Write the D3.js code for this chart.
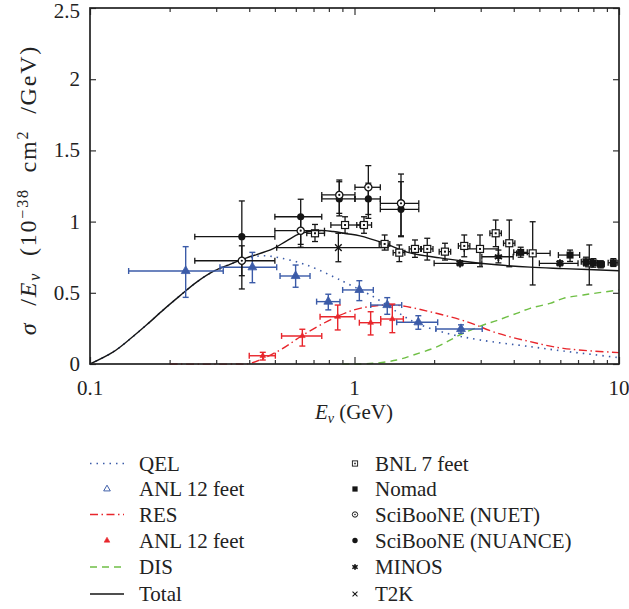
<!DOCTYPE html>
<html><head><meta charset="utf-8">
<script src="https://cdn.jsdelivr.net/npm/d3@7"></script>
<style>
body{margin:0;background:#fff}
svg{display:block}
text{font-family:"Liberation Serif","DejaVu Serif",serif;fill:#222}
</style>
</head><body>
<svg id="c" width="629" height="609"></svg>
<script>
// ---------- axes ----------
const xMajorTicks = [0.1, 1, 10];
const xTickLabels = ["0.1", "1", "10"];
const xMinorTicks = [0.2,0.3,0.4,0.5,0.6,0.7,0.8,0.9,2,3,4,5,6,7,8,9];
const yTicks = [0, 0.5, 1, 1.5, 2, 2.5];
const yTickLabels = ["0", "0.5", "1", "1.5", "2", "2.5"];

// ---------- theory curves: [E (GeV), sigma/E] ----------
const qelCurve = [[0.1,0],[0.1225,0.085],[0.1416,0.175],[0.1638,0.275],[0.1893,0.38],[0.219,0.48],[0.253,0.575],[0.2925,0.65],[0.338,0.70],[0.391,0.74],[0.45,0.76],[0.523,0.745],[0.66,0.695],[0.832,0.613],[0.935,0.567],[1.178,0.473],[1.444,0.367],[1.719,0.286],[2.232,0.216],[2.982,0.169],[4.609,0.122],[6.158,0.091],[10,0.045]];
const resCurve = [[0.2,0],[0.35,0],[0.403,0.005],[0.523,0.098],[0.64,0.204],[0.856,0.332],[1.049,0.391],[1.402,0.414],[1.929,0.367],[2.656,0.297],[3.448,0.218],[4.609,0.157],[6.158,0.110],[10,0.08]];
const disCurve = [[0.9,0],[1.145,0.003],[1.444,0.028],[1.67,0.063],[2.046,0.12],[2.297,0.168],[2.578,0.216],[3.069,0.274],[3.448,0.305],[4.104,0.356],[4.609,0.391],[5.486,0.426],[6.158,0.461],[7.328,0.485],[10,0.52]];
const totalCurve = [[0.1,0],[0.1225,0.085],[0.1416,0.175],[0.1638,0.275],[0.1893,0.38],[0.219,0.48],[0.253,0.575],[0.2925,0.65],[0.338,0.70],[0.391,0.745],[0.493,0.81],[0.554,0.865],[0.622,0.915],[0.741,0.938],[0.832,0.93],[0.935,0.915],[1.049,0.9],[1.285,0.85],[1.621,0.78],[2.105,0.745],[2.578,0.722],[3.448,0.697],[4.609,0.68],[6.158,0.67],[10,0.655]];

// ---------- data points: [E, value, Elo, Ehi, vlo, vhi] ----------
const anlQel = [[0.230,0.653,0.140,0.319,0.468,0.824],[0.411,0.679,0.310,0.508,0.571,0.784],[0.599,0.618,0.523,0.679,0.539,0.695],[0.796,0.438,0.719,0.881,0.38,0.49],[1.043,0.52,0.902,1.178,0.445,0.585],[1.33,0.414,1.152,1.508,0.349,0.466],[1.743,0.293,1.444,2.063,0.244,0.339],[2.527,0.246,2.03,3.04,0.216,0.275]];
const anlRes = [[0.450,0.058,0.400,0.502,0.028,0.082],[0.635,0.197,0.530,0.752,0.126,0.244],[0.864,0.332,0.741,1.004,0.239,0.414],[1.151,0.290,1.043,1.256,0.204,0.367],[1.39,0.316,1.256,1.53,0.22,0.421]];
const bnl = [[0.709,0.918,0.66,0.77,0.86,0.98],[0.921,0.976,0.814,1.049,0.918,1.034],[1.086,0.976,1.02,1.16,0.918,1.034],[1.30,0.843,1.24,1.36,0.80,0.906],[1.477,0.782,1.40,1.55,0.719,0.836],[1.693,0.808,1.61,1.78,0.749,0.871],[1.884,0.808,1.79,1.98,0.73,0.883],[2.198,0.789,2.09,2.31,0.73,0.848],[2.60,0.829,2.47,2.73,0.753,0.906],[2.982,0.808,2.6,3.5,0.683,0.906],[3.418,0.918,3.25,3.59,0.824,1.011],[3.848,0.848,3.66,4.04,0.683,1.011],[4.717,0.777,4.10,5.49,0.555,0.999],[7.72,0.707,7.35,8.1,0.555,0.836]];
const nomad = [[4.25,0.784,4.0,4.5,0.75,0.82],[6.53,0.765,5.9,7.1,0.72,0.80],[7.50,0.718,7.2,7.8,0.69,0.75],[8.0,0.71,7.8,8.3,0.68,0.74],[8.53,0.70,8.3,8.8,0.675,0.725],[9.52,0.711,9.1,9.9,0.685,0.74]];
const sciNuet = [[0.375,0.725,0.249,0.50,0.62,0.83],[0.626,0.936,0.50,0.77,0.84,1.03],[0.876,1.187,0.752,1.004,1.058,1.292],[1.128,1.241,1.004,1.252,1.023,1.393],[1.499,1.128,1.252,1.75,0.894,1.334]];
const sciNuance = [[0.375,0.894,0.249,0.50,0.527,1.145],[0.626,1.034,0.50,0.752,0.82,1.157],[0.876,1.159,0.752,1.004,1.04,1.28],[1.128,1.159,1.004,1.252,1.05,1.27],[1.499,1.086,1.252,1.75,0.90,1.28]];
const minos = [[2.506,0.707,2.0,3.03,0.69,0.725],[3.50,0.753,3.03,3.98,0.71,0.80],[5.98,0.707,5.0,7.0,0.69,0.725]];
const t2k = [[0.869,0.817,0.508,1.339,0.718,0.918]];

const legendLeft = ["QEL","ANL 12 feet","RES","ANL 12 feet","DIS","Total"];
const legendRight = ["BNL 7 feet","Nomad","SciBooNE (NUET)","SciBooNE (NUANCE)","MINOS","T2K"];

// ---------- drawing ----------
const W=629,H=609, L=90,R=619,T=8,B=364;
const BLUE="#3b5ba8", RED="#e8262c", GREEN="#6fbf45", BLACK="#151515";
const svg=d3.select("#c");
const x=d3.scaleLog().domain([0.1,10]).range([L,R]);
const y=d3.scaleLinear().domain([0,2.5]).range([B,T]);
const g=svg.append("g");

// axes with inward ticks
function styleAxis(sel){sel.select(".domain").remove();sel.selectAll("line").attr("stroke","#333").attr("stroke-width",1.2);sel.selectAll("text").remove();}
g.append("g").attr("transform",`translate(0,${B})`).call(d3.axisBottom(x).tickValues(xMinorTicks).tickSize(-4)).call(styleAxis);
g.append("g").attr("transform",`translate(0,${B})`).call(d3.axisBottom(x).tickValues(xMajorTicks).tickSize(-7)).call(styleAxis);
g.append("g").attr("transform",`translate(0,${T})`).call(d3.axisTop(x).tickValues(xMinorTicks).tickSize(-4)).call(styleAxis);
g.append("g").attr("transform",`translate(0,${T})`).call(d3.axisTop(x).tickValues(xMajorTicks).tickSize(-7)).call(styleAxis);
g.append("g").attr("transform",`translate(${L},0)`).call(d3.axisLeft(y).tickValues(yTicks).tickSize(-6)).call(styleAxis);
g.append("g").attr("transform",`translate(${R},0)`).call(d3.axisRight(y).tickValues(yTicks).tickSize(-6)).call(styleAxis);

g.selectAll(".xl").data(xMajorTicks).join("text").attr("x",d=>x(d)).attr("y",B+31)
 .attr("text-anchor","middle").attr("font-size",21).text((d,i)=>xTickLabels[i]);
g.selectAll(".yl").data(yTicks).join("text").attr("x",L-10).attr("y",d=>Math.max(y(d)+7,18))
 .attr("text-anchor","end").attr("font-size",21).text((d,i)=>yTickLabels[i]);

// axis titles
const xt=g.append("text").attr("x",354).attr("y",419).attr("text-anchor","middle").attr("font-size",21);
xt.append("tspan").attr("font-style","italic").text("E");
xt.append("tspan").attr("font-style","italic").attr("font-size",14).attr("dy",4).text("ν");
xt.append("tspan").attr("dy",-4).text(" (GeV)");

const yt=g.append("text").attr("transform","translate(36,190) rotate(-90)").attr("text-anchor","middle").attr("font-size",24)
  .attr("letter-spacing",1.8).attr("word-spacing",8);
yt.append("tspan").attr("font-style","italic").text("σ");
yt.append("tspan").text(" /");
yt.append("tspan").attr("font-style","italic").text("E");
yt.append("tspan").attr("font-style","italic").attr("font-size",16).attr("dy",4).text("ν");
yt.append("tspan").attr("dy",-4).text(" (10");
yt.append("tspan").attr("font-size",16).attr("dy",-8).text("−38");
yt.append("tspan").attr("dy",8).text(" cm");
yt.append("tspan").attr("font-size",16).attr("dy",-8).text("2");
yt.append("tspan").attr("dy",8).text(" /GeV)");

// curves
const line=d3.line().x(d=>x(d[0])).y(d=>y(d[1])).curve(d3.curveCatmullRom.alpha(0.5));
const plot=g.append("g");
plot.append("path").datum(qelCurve).attr("d",line).attr("fill","none").attr("stroke",BLUE).attr("stroke-width",1.6).attr("stroke-dasharray","1.5,5");
plot.append("path").datum(resCurve).attr("d",line).attr("fill","none").attr("stroke",RED).attr("stroke-width",1.4).attr("stroke-dasharray","8,3.5,1.5,3.5");
plot.append("path").datum(disCurve).attr("d",line).attr("fill","none").attr("stroke",GREEN).attr("stroke-width",1.4).attr("stroke-dasharray","7,5");
plot.append("path").datum(totalCurve).attr("d",line).attr("fill","none").attr("stroke",BLACK).attr("stroke-width",1.4);

// error bars
function errBars(data,color,w){
  const eg=plot.append("g").attr("stroke",color).attr("stroke-width",w).attr("fill","none");
  data.forEach(d=>{
    const cx=x(d[0]),cy=y(d[1]),x0=x(d[2]),x1=x(d[3]),y0=y(d[4]),y1=y(d[5]);
    eg.append("line").attr("x1",x0).attr("x2",x1).attr("y1",cy).attr("y2",cy);
    eg.append("line").attr("x1",x0).attr("x2",x0).attr("y1",cy-3).attr("y2",cy+3);
    eg.append("line").attr("x1",x1).attr("x2",x1).attr("y1",cy-3).attr("y2",cy+3);
    eg.append("line").attr("x1",cx).attr("x2",cx).attr("y1",y0).attr("y2",y1);
    eg.append("line").attr("x1",cx-3).attr("x2",cx+3).attr("y1",y0).attr("y2",y0);
    eg.append("line").attr("x1",cx-3).attr("x2",cx+3).attr("y1",y1).attr("y2",y1);
  });
}
// marker drawers
const M={
  triBlue:(s,open)=>s.append("path").attr("d",d3.symbol(d3.symbolTriangle,34)()).attr("fill",open?"#fff":BLUE).attr("stroke",BLUE).attr("stroke-width",open?1.3:0.8),
  triRed:(s)=>s.append("path").attr("d",d3.symbol(d3.symbolTriangle,14)()).attr("fill",RED).attr("stroke",RED).attr("stroke-width",0.6),
  bnl:(s)=>{s.append("rect").attr("x",-3.5).attr("y",-3.5).attr("width",7).attr("height",7).attr("fill","#fff").attr("stroke",BLACK).attr("stroke-width",1.2);s.append("rect").attr("x",-1).attr("y",-1).attr("width",2).attr("height",2).attr("fill",BLACK);},
  nomad:(s)=>s.append("rect").attr("x",-3.5).attr("y",-3.5).attr("width",7).attr("height",7).attr("fill",BLACK),
  nuet:(s)=>{s.append("circle").attr("r",3.6).attr("fill","#fff").attr("stroke",BLACK).attr("stroke-width",1.3);s.append("circle").attr("r",1.1).attr("fill",BLACK);},
  nuance:(s)=>s.append("circle").attr("r",3.6).attr("fill",BLACK),
  minos:(s)=>{s.append("path").attr("d",d3.symbol(d3.symbolAsterisk,48)()).attr("stroke",BLACK).attr("stroke-width",1.8).attr("fill","none");s.append("rect").attr("x",-2).attr("y",-2).attr("width",4).attr("height",4).attr("fill",BLACK);},
  t2k:(s)=>s.append("path").attr("d",d3.symbol(d3.symbolTimes,30)()).attr("stroke",BLACK).attr("stroke-width",1.4).attr("fill","none")
};
function markers(data,fn){
  data.forEach(d=>{const s=plot.append("g").attr("transform",`translate(${x(d[0])},${y(d[1])})`);fn(s);});
}
errBars(anlQel,BLUE,1.4); markers(anlQel,s=>M.triBlue(s,false));
errBars(anlRes,RED,1.4); markers(anlRes,M.triRed);
errBars(bnl,BLACK,1.3); markers(bnl,M.bnl);
errBars(nomad,BLACK,1.3); markers(nomad,M.nomad);
errBars(sciNuance,BLACK,1.3); errBars(sciNuet,BLACK,1.3);
markers(sciNuance,M.nuance); markers(sciNuet,M.nuet);
errBars(minos,BLACK,1.3); markers(minos,M.minos);
errBars(t2k,BLACK,1.3); markers(t2k,M.t2k);

// frame
g.append("rect").attr("x",L).attr("y",T).attr("width",R-L).attr("height",B-T).attr("fill","none").attr("stroke","#222").attr("stroke-width",1.7);

// legend
const rowY=[463.5,489,514.5,540.5,567,594];
const lg=svg.append("g");
const lineStyles=[
  {i:0,stroke:BLUE,dash:"1.5,5",w:1.6},
  {i:2,stroke:RED,dash:"8,3.5,1.5,3.5",w:1.4},
  {i:4,stroke:GREEN,dash:"7,5",w:1.4},
  {i:5,stroke:BLACK,dash:null,w:1.4}
];
lineStyles.forEach(o=>{
  lg.append("line").attr("x1",90).attr("x2",124).attr("y1",rowY[o.i]).attr("y2",rowY[o.i])
    .attr("stroke",o.stroke).attr("stroke-width",o.w).attr("stroke-dasharray",o.dash);
});
M.triBlue(lg.append("g").attr("transform",`translate(107,${rowY[1]}) scale(0.75)`),true);
M.triRed(lg.append("g").attr("transform",`translate(107,${rowY[3]})`));
legendLeft.forEach((t,i)=>lg.append("text").attr("x",139).attr("y",rowY[i]+7).attr("font-size",21).text(t));
const rightFns=[M.bnl,M.nomad,M.nuet,M.nuance,M.minos,M.t2k];
rightFns.forEach((fn,i)=>fn(lg.append("g").attr("transform",`translate(355,${rowY[i]}) scale(0.75)`)));
legendRight.forEach((t,i)=>lg.append("text").attr("x",375).attr("y",rowY[i]+7).attr("font-size",21).text(t));
</script>
</body></html>
